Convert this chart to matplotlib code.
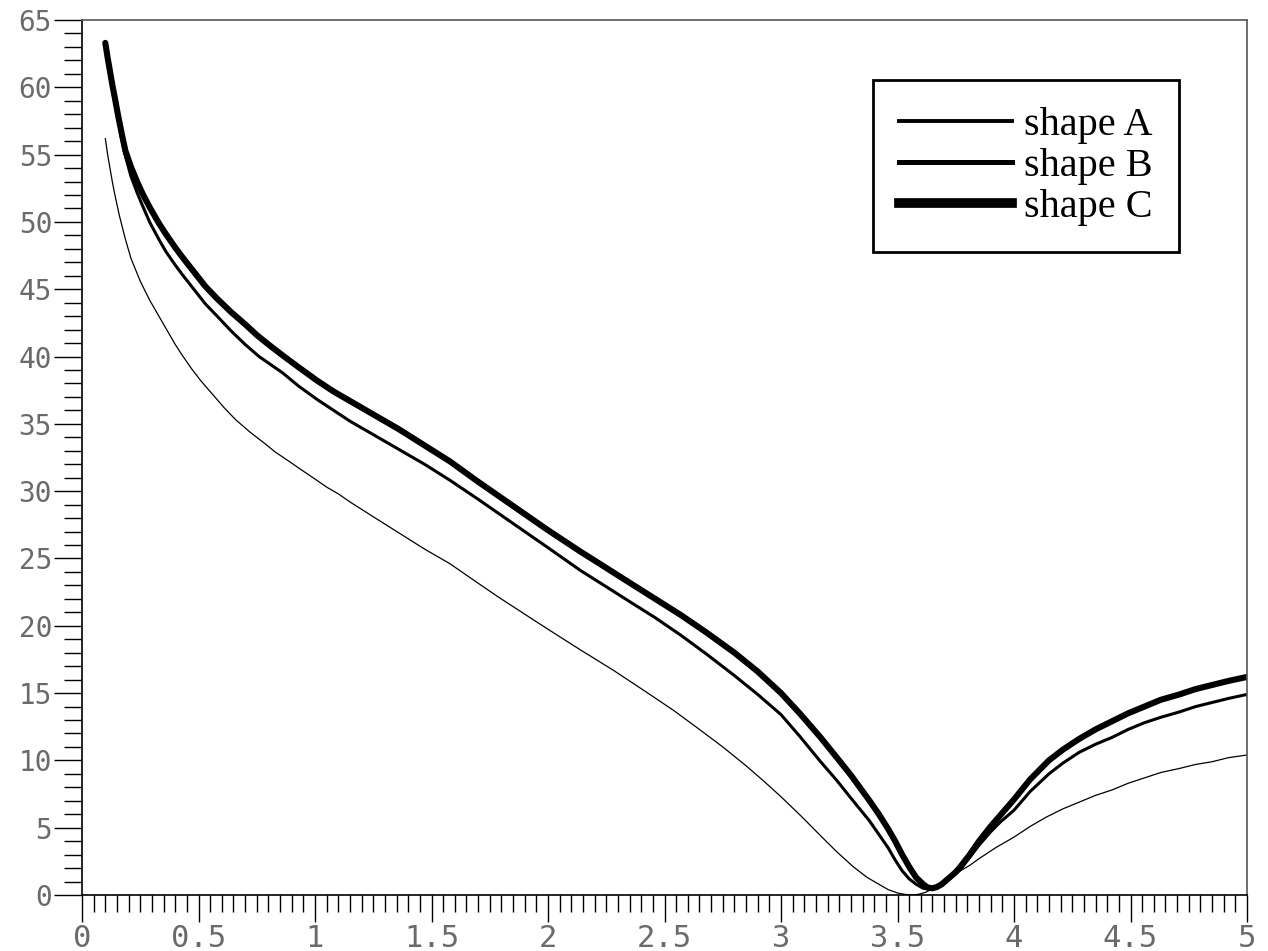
import matplotlib
matplotlib.use("Agg")
import matplotlib.pyplot as plt
from matplotlib.ticker import MultipleLocator, FuncFormatter
from matplotlib.lines import Line2D

# ---- data ----
series_names = ["shape A", "shape B", "shape C"]

shape_a_x = [0.10, 0.11, 0.12, 0.13, 0.14, 0.16, 0.185, 0.21, 0.25, 0.29, 0.33, 0.36, 0.40,
             0.43, 0.47, 0.51, 0.56, 0.61, 0.66, 0.72, 0.78, 0.83, 0.89, 0.94, 1.00, 1.05,
             1.10, 1.15, 1.25, 1.36, 1.47, 1.58, 1.68, 1.79, 1.87, 1.95, 2.04, 2.14, 2.28,
             2.42, 2.54, 2.65, 2.75, 2.85, 2.93, 3.00, 3.09, 3.17, 3.24, 3.31, 3.37, 3.42,
             3.46, 3.50, 3.53, 3.56, 3.59, 3.62, 3.65, 3.68, 3.71, 3.74, 3.77, 3.81, 3.85,
             3.92, 4.00, 4.07, 4.14, 4.21, 4.28, 4.35, 4.42, 4.49, 4.56, 4.63, 4.71, 4.78,
             4.85, 4.92, 5.00]
shape_a_y = [56.2, 55.0, 54.0, 53.0, 52.1, 50.5, 48.8, 47.3, 45.6, 44.2, 43.0, 42.1, 40.9,
             40.1, 39.1, 38.2, 37.2, 36.2, 35.3, 34.4, 33.6, 32.9, 32.2, 31.6, 30.9, 30.3,
             29.8, 29.2, 28.1, 26.9, 25.7, 24.6, 23.4, 22.1, 21.2, 20.3, 19.3, 18.2, 16.7,
             15.1, 13.7, 12.3, 11.0, 9.6, 8.4, 7.3, 5.8, 4.4, 3.2, 2.1, 1.3, 0.8,
             0.4, 0.15, 0.05, 0.0, 0.05, 0.2, 0.45, 0.75, 1.1, 1.45, 1.8, 2.2, 2.7,
             3.5, 4.3, 5.1, 5.8, 6.4, 6.9, 7.4, 7.8, 8.3, 8.7, 9.1, 9.4, 9.7,
             9.9, 10.2, 10.4]

shape_b_x = [0.10, 0.11, 0.12, 0.13, 0.14, 0.155, 0.17, 0.186, 0.21, 0.236, 0.26, 0.29, 0.33,
             0.36, 0.40, 0.43, 0.48, 0.53, 0.58, 0.64, 0.70, 0.76, 0.81, 0.86, 0.93, 1.01,
             1.08, 1.15, 1.25, 1.36, 1.47, 1.58, 1.70, 1.85, 2.00, 2.14, 2.25, 2.35, 2.46,
             2.57, 2.68, 2.80, 2.90, 3.00, 3.08, 3.17, 3.24, 3.30, 3.38, 3.42, 3.46, 3.49,
             3.52, 3.55, 3.58, 3.61, 3.63, 3.65, 3.67, 3.69, 3.71, 3.73, 3.75, 3.77, 3.81,
             3.85, 3.90, 3.94, 4.00, 4.07, 4.15, 4.21, 4.28, 4.35, 4.42, 4.49, 4.56, 4.63,
             4.71, 4.78, 4.85, 4.92, 5.00]
shape_b_y = [63.1, 62.0, 61.0, 60.0, 59.0, 57.6, 56.2, 54.9, 53.4, 52.2, 51.2, 50.0, 48.7,
             47.8, 46.8, 46.1, 45.0, 43.9, 43.0, 41.9, 40.9, 40.0, 39.4, 38.8, 37.8, 36.8,
             36.0, 35.2, 34.2, 33.1, 32.0, 30.8, 29.4, 27.6, 25.8, 24.1, 22.9, 21.8, 20.6,
             19.3, 17.9, 16.3, 14.9, 13.4, 11.8, 9.9, 8.5, 7.2, 5.5, 4.5, 3.5, 2.6,
             1.8, 1.2, 0.8, 0.5, 0.45, 0.5, 0.6, 0.8, 1.0, 1.3, 1.6, 1.9, 2.8,
             3.7, 4.7, 5.4, 6.3, 7.7, 9.0, 9.8, 10.6, 11.2, 11.7, 12.3, 12.8, 13.2,
             13.6, 14.0, 14.3, 14.6, 14.9]

shape_c_x = [0.10, 0.11, 0.12, 0.13, 0.14, 0.155, 0.17, 0.186, 0.21, 0.236, 0.26, 0.29, 0.33,
             0.36, 0.40, 0.43, 0.48, 0.53, 0.58, 0.64, 0.70, 0.75, 0.80, 0.86, 0.93, 1.01,
             1.08, 1.15, 1.25, 1.36, 1.47, 1.58, 1.70, 1.85, 2.00, 2.14, 2.25, 2.35, 2.46,
             2.57, 2.68, 2.80, 2.90, 3.00, 3.08, 3.17, 3.24, 3.30, 3.38, 3.42, 3.46, 3.49,
             3.52, 3.55, 3.58, 3.61, 3.63, 3.65, 3.67, 3.69, 3.71, 3.73, 3.75, 3.77, 3.81,
             3.85, 3.90, 3.94, 4.00, 4.07, 4.15, 4.21, 4.28, 4.35, 4.42, 4.49, 4.56, 4.63,
             4.71, 4.78, 4.85, 4.92, 5.00]
shape_c_y = [63.3, 62.2, 61.2, 60.2, 59.3, 57.9, 56.6, 55.3, 54.1, 53.0, 52.1, 51.1, 49.9,
             49.1, 48.1, 47.4, 46.3, 45.2, 44.3, 43.3, 42.4, 41.6, 40.9, 40.1, 39.2, 38.2,
             37.4, 36.7, 35.7, 34.6, 33.4, 32.2, 30.7, 28.9, 27.1, 25.5, 24.3, 23.2, 22.0,
             20.8, 19.5, 18.0, 16.6, 15.0, 13.5, 11.7, 10.2, 8.9, 7.0, 6.0, 4.9, 4.0,
             3.0, 2.1, 1.3, 0.8, 0.55, 0.5, 0.6, 0.8, 1.1, 1.4, 1.7, 2.1, 3.0,
             4.0, 5.1, 5.9, 7.1, 8.6, 10.0, 10.8, 11.6, 12.3, 12.9, 13.5, 14.0, 14.5,
             14.9, 15.3, 15.6, 15.9, 16.2]

line_widths = [0.9, 2.2, 4.4]
legend_widths = [2.8, 3.6, 7.0]

fig = plt.figure(figsize=(12.68, 9.51), dpi=100)
ax = fig.add_axes([82 / 1268, 56 / 951, 1165 / 1268, 875 / 951])

xs = [shape_a_x, shape_b_x, shape_c_x]
ys = [shape_a_y, shape_b_y, shape_c_y]
for x, y, lw in zip(xs, ys, line_widths):
    ax.plot(x, y, color="black", lw=lw, solid_capstyle="round", solid_joinstyle="round")

ax.set_xlim(0, 5)
ax.set_ylim(0, 65)

ax.xaxis.set_major_locator(MultipleLocator(0.5))
ax.xaxis.set_minor_locator(MultipleLocator(0.05))
ax.yaxis.set_major_locator(MultipleLocator(5))
ax.yaxis.set_minor_locator(MultipleLocator(1))
ax.xaxis.set_major_formatter(FuncFormatter(lambda v, p: f"{v:g}"))
ax.yaxis.set_major_formatter(FuncFormatter(lambda v, p: f"{v:g}"))

ax.tick_params(axis="x", which="major", direction="out", length=19.5, width=1.0,
               pad=1.5, labelsize=22, labelcolor="#6a6a6a")
ax.tick_params(axis="x", which="minor", direction="out", length=12.5, width=1.0)
ax.tick_params(axis="y", which="major", direction="out", length=20, width=1.0,
               pad=1.5, labelsize=20, labelcolor="#6a6a6a")
ax.tick_params(axis="y", which="minor", direction="out", length=13, width=1.0)
for lab in ax.get_xticklabels() + ax.get_yticklabels():
    lab.set_family("DejaVu Sans Mono")

for side in ["left", "bottom"]:
    ax.spines[side].set_linewidth(1.2)
    ax.spines[side].set_color("black")
for side in ["top", "right"]:
    ax.spines[side].set_linewidth(1.2)
    ax.spines[side].set_color("#555555")

handles = [Line2D([], [], color="black", lw=w) for w in legend_widths]
leg = ax.legend(handles, series_names, loc="upper left", bbox_to_anchor=(0.679, 0.931),
                borderaxespad=0, frameon=True, fancybox=False, framealpha=1,
                edgecolor="black", borderpad=0.65, handlelength=2.8, handletextpad=0.3,
                labelspacing=0.1, prop={"family": "Liberation Serif", "size": 29})
leg.get_frame().set_linewidth(2.0)

fig.savefig("out.png", dpi=100)
